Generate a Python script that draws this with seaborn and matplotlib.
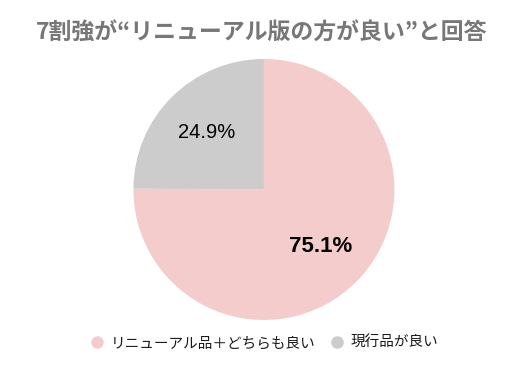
import matplotlib
matplotlib.use("Agg")
import matplotlib.pyplot as plt
import seaborn as sns
from matplotlib.lines import Line2D

# data
labels = ['リニューアル品＋どちらも良い', '現行品が良い']
shares = [75.1, 24.9]
colors = ['#F4CCCC', '#CCCCCC']
title = '7割強が“リニューアル版の方が良い”と回答'

sns.set_theme(style="white")
plt.rcParams['font.family'] = ['Noto Sans CJK JP', 'DejaVu Sans']

fig = plt.figure(figsize=(5.29, 3.71), dpi=100)
ax = fig.add_axes([0.2514, 0.1375, 0.495, 0.7035])

wedges, texts, autotexts = ax.pie(
    shares, colors=colors, startangle=90, counterclock=False,
    autopct='%1.1f%%', pctdistance=0.62,
    wedgeprops={'linewidth': 0}
)
ax.set_xlim(-1, 1)
ax.set_ylim(-1, 1)
ax.set_aspect('equal', adjustable='box')

# big slice bold, small slice regular
autotexts[0].set_fontsize(16)
autotexts[0].set_fontweight('bold')
autotexts[1].set_fontsize(14.5)
for t in autotexts:
    t.set_family(['Liberation Sans', 'DejaVu Sans'])
    t.set_color('black')

fig.text(0.495, 0.913, title, ha='center', va='center',
         fontsize=16.5, fontweight='bold', color='#777777')

handles = [Line2D([0], [0], marker='o', linestyle='', markersize=8,
                  markerfacecolor=c, markeredgecolor=c) for c in colors]
fig.legend(handles, labels, loc='center', bbox_to_anchor=(0.499, 0.075),
           ncol=2, frameon=False, fontsize=10.5, handlelength=1.0,
           handletextpad=0.4, columnspacing=1.0, labelcolor='#1a1a1a')

fig.savefig('out.png', dpi=100)
